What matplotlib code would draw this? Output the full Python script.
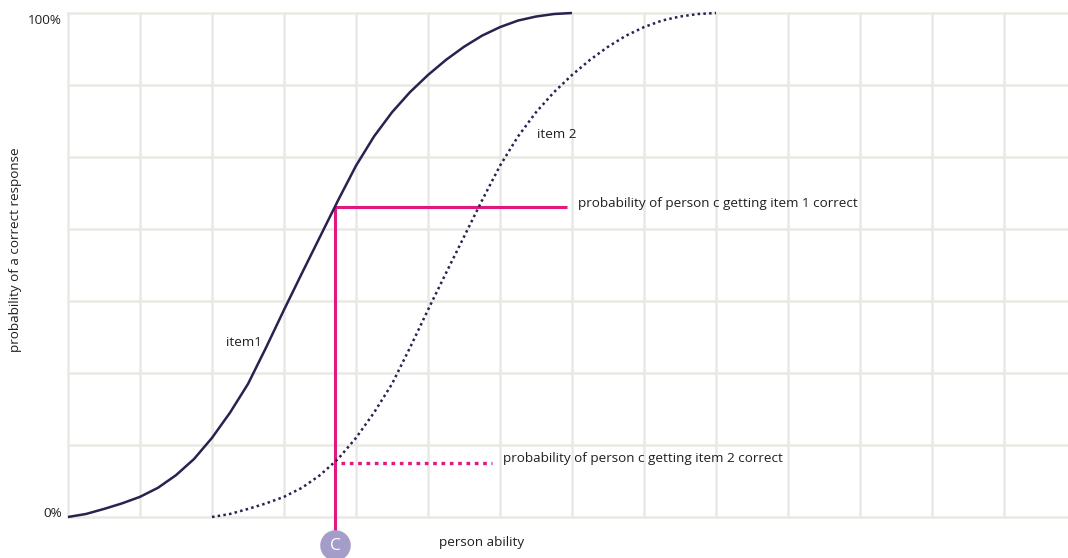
import matplotlib
matplotlib.use('Agg')
import matplotlib.pyplot as plt
import numpy as np

plt.rcParams['font.family'] = ['Open Sans', 'DejaVu Sans']

# item characteristic curves (ability in grid units, probability 0..1)
item1_ability = [0, 0.25, 0.5, 0.75, 1, 1.25, 1.5, 1.75, 2, 2.25, 2.5, 2.75, 3, 3.25,
                 3.5, 3.75, 4, 4.25, 4.5, 4.75, 5, 5.25, 5.5, 5.75, 6, 6.25, 6.5, 6.75, 7]
item1_prob = [0.0, 0.006, 0.016, 0.027, 0.040, 0.058, 0.083, 0.115, 0.157, 0.207,
              0.264, 0.336, 0.411, 0.484, 0.556, 0.628, 0.697, 0.755, 0.803, 0.843,
              0.877, 0.907, 0.933, 0.955, 0.972, 0.985, 0.993, 0.998, 1.0]
item2_ability = [2, 2.25, 2.5, 2.75, 3, 3.25, 3.5, 3.75, 4, 4.25, 4.5, 4.75, 5, 5.25,
                 5.5, 5.75, 6, 6.25, 6.5, 6.75, 7, 7.25, 7.5, 7.75, 8, 8.25, 8.5, 8.75, 9]
item2_prob = [0.0, 0.006, 0.016, 0.027, 0.040, 0.058, 0.083, 0.115, 0.157, 0.207,
              0.264, 0.336, 0.411, 0.484, 0.556, 0.628, 0.697, 0.755, 0.803, 0.843,
              0.877, 0.907, 0.933, 0.955, 0.972, 0.985, 0.993, 0.998, 1.0]

person_c_ability = 3.71
person_c_item1 = 0.615
person_c_item2 = 0.107
item1_line_end = 6.93
item2_line_end = 5.89

navy = '#2a2150'
pink = '#e0187f'
grid_col = '#e9e9e4'
text_col = '#231f20'
fs = 9.7

fig = plt.figure(figsize=(10.68, 5.58), dpi=100)
ax = fig.add_axes([68 / 1068, 41 / 558, 1000 / 1068, 504 / 558])
ax.set_xlim(0, 1000 / 72)
ax.set_ylim(0, 1)
ax.axis('off')

# grid
for gx in range(14):
    ax.axvline(gx, color=grid_col, lw=1.8, zorder=0, clip_on=False)
for gy in np.arange(8) / 7:
    ax.axhline(gy, color=grid_col, lw=1.8, zorder=0, clip_on=False)

# curves
ax.plot(item1_ability, item1_prob, color=navy, lw=1.8, clip_on=False, zorder=3,
        solid_capstyle='butt', solid_joinstyle='round')
ax.plot(item2_ability, item2_prob, color=navy, lw=1.8, ls=(0, (1, 1.3)),
        clip_on=False, zorder=3)

# person c guides
ax.plot([person_c_ability, person_c_ability], [person_c_item1, -0.056],
        color=pink, lw=2.2, clip_on=False, zorder=2, solid_capstyle='butt')
ax.plot([person_c_ability, item1_line_end], [person_c_item1, person_c_item1],
        color=pink, lw=2.2, zorder=2, solid_capstyle='butt')
ax.plot([person_c_ability + 0.08, item2_line_end], [person_c_item2, person_c_item2],
        color=pink, lw=2.4, ls=(0, (1.1, 1.4)), zorder=2)
ax.plot([person_c_ability], [-0.056], marker='o', ms=22, color='#a59dc9',
        mec='none', clip_on=False, zorder=4)
ax.text(person_c_ability, -0.058, 'C', color='white', fontsize=12.5,
        ha='center', va='center', zorder=5)

# labels
ax.text(-0.09, 0.986, '100%', ha='right', va='center', fontsize=fs, color=text_col)
ax.text(-0.09, 0.006, '0%', ha='right', va='center', fontsize=fs, color=text_col)
fig.text(16 / 1068, 1 - 250 / 558, 'probability of a correct response', rotation=90,
         ha='center', va='center', fontsize=fs, color=text_col)
ax.text(5.74, -0.05, 'person ability', ha='center', va='center', fontsize=fs, color=text_col)
ax.text(2.19, 0.347, 'item1', ha='left', va='center', fontsize=fs, color=text_col)
ax.text(6.51, 0.758, 'item 2', ha='left', va='center', fontsize=fs, color=text_col)
ax.text(7.08, 0.623, 'probability of person c getting item 1 correct',
        ha='left', va='center', fontsize=fs, color=text_col)
ax.text(6.04, 0.117, 'probability of person c getting item 2 correct',
        ha='left', va='center', fontsize=fs, color=text_col)

fig.savefig('out.png', dpi=100, facecolor='white')
